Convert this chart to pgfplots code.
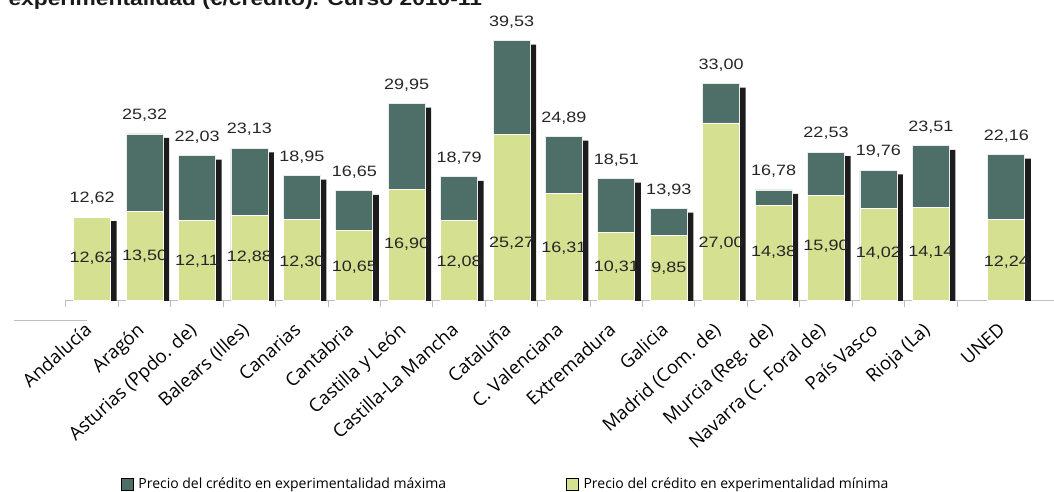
\documentclass[border=0pt]{standalone}
\usepackage{fontspec}
\setmainfont{Liberation Sans}
\newfontfamily\catfont{Open Sans}
\newfontfamily\valfont[FakeStretch=1.2]{Liberation Sans}
\usepackage{pgfplots}
\usepackage{pgfplotstable}
\pgfplotsset{compat=1.18}
\definecolor{darkteal}{RGB}{78,110,104}
\definecolor{lightgreen}{RGB}{213,224,145}
\definecolor{shadowc}{RGB}{28,28,28}
\definecolor{axgray}{RGB}{190,190,190}

\pgfplotstableread{
x     maxv  minv  maxlab minlab minpos
0     12.62 12.62 12,62  12,62  6.4
1     25.32 13.50 25,32  13,50  6.7
2     22.03 12.11 22,03  12,11  5.95
3     23.13 12.88 23,13  12,88  6.55
4     18.95 12.30 18,95  12,30  5.8
5     16.65 10.65 16,65  10,65  5.0
6     29.95 16.90 29,95  16,90  8.5
7     18.79 12.08 18,79  12,08  5.8
8     39.53 25.27 39,53  25,27  8.7
9     24.89 16.31 24,89  16,31  7.9
10    18.51 10.31 18,51  10,31  5.0
11    13.93 9.85  13,93  9,85   4.9
12    33.00 27.00 33,00  27,00  8.7
13    16.78 14.38 16,78  14,38  7.3
14    22.53 15.90 22,53  15,90  8.2
15    19.76 14.02 19,76  14,02  7.2
16    23.51 14.14 23,51  14,14  7.3
17.44 22.16 12.24 22,16  12,24  5.8
}\data

\begin{document}
\begin{tikzpicture}
\begin{axis}[
  at={(0pt,0pt)}, anchor=south west,
  scale only axis, width=988pt, height=288.6pt,
  xmin=-0.5, xmax=18.35, ymin=0, ymax=44,
  axis x line=bottom, axis y line=none,
  x axis line style={-, draw=axgray, line width=1pt},
  ytick=\empty,
  xtick={0,...,16,17.44},
  xticklabels={Andalucía, Aragón, Asturias (Ppdo. de), Balears (Illes), Canarias, Cantabria, Castilla y León, Castilla-La Mancha, Cataluña, C. Valenciana, Extremadura, Galicia, Madrid (Com. de), Murcia (Reg. de), Navarra (C. Foral de), País Vasco, Rioja (La), UNED},
  major x tick style={draw=none},
  extra x ticks={-0.5,0.5,...,16.5},
  extra x tick labels={},
  extra x tick style={tick align=outside, major tick length=7pt, major x tick style={draw=axgray, line width=1pt}},
  xticklabel style={font=\catfont\fontsize{18.5}{22}\selectfont, xshift=-9pt, yshift=-17pt, rotate=42, anchor=north east, inner sep=0pt},
  ybar, bar width=37pt,
  legend columns=2,
  legend style={at={(0.445,-0.6376)}, anchor=center, draw=none, fill=none,
    font=\catfont\fontsize{14}{16}\selectfont,
    /tikz/every odd column/.append style={column sep=3pt},
    /tikz/every even column/.append style={column sep=118pt}},
  legend image code/.code={\fill[#1] (0pt,-6pt) rectangle (12pt,6pt);},
]
% shadows
\addplot[bar shift=0pt, fill=shadowc, draw=none, xshift=6pt, yshift=-4pt, forget plot] table[x=x, y=maxv] {\data};
% max (dark)
\addplot[bar shift=0pt, fill=darkteal, draw=white!85!gray, line width=0.8pt, forget plot] table[x=x, y=maxv] {\data};
% min (light)
\addplot[bar shift=0pt, fill=lightgreen, draw=white, line width=0.8pt, forget plot] table[x=x, y=minv] {\data};
% max labels
\addplot[sharp plot, draw=none, mark=none, forget plot, nodes near coords, point meta=explicit symbolic,
  every node near coord/.style={anchor=south, font=\valfont\fontsize{15}{18}\selectfont, text=black!85, yshift=9pt}]
  table[x=x, y=maxv, meta=maxlab] {\data};
% min labels
\addplot[sharp plot, draw=none, mark=none, forget plot, nodes near coords, point meta=explicit symbolic,
  every node near coord/.style={anchor=center, font=\valfont\fontsize{15}{18}\selectfont, text=black!85}]
  table[x=x, y=minpos, meta=minlab] {\data};
\addlegendimage{fill=darkteal}
\addlegendentry{Precio del crédito en experimentalidad máxima}
\addlegendimage{fill=lightgreen}
\addlegendentry{Precio del crédito en experimentalidad mínima}
\end{axis}
\node[anchor=base west, font=\valfont\bfseries\fontsize{19}{22}\selectfont, text=black!90] at (-61pt,294pt) {experimentalidad (€/crédito). Curso 2010-11};
\draw[axgray, line width=1pt] (-52pt,-21pt) -- (21pt,-21pt);
\pgfresetboundingbox
\path (-66pt,-192pt) rectangle (988pt,300pt);
\end{tikzpicture}
\end{document}
